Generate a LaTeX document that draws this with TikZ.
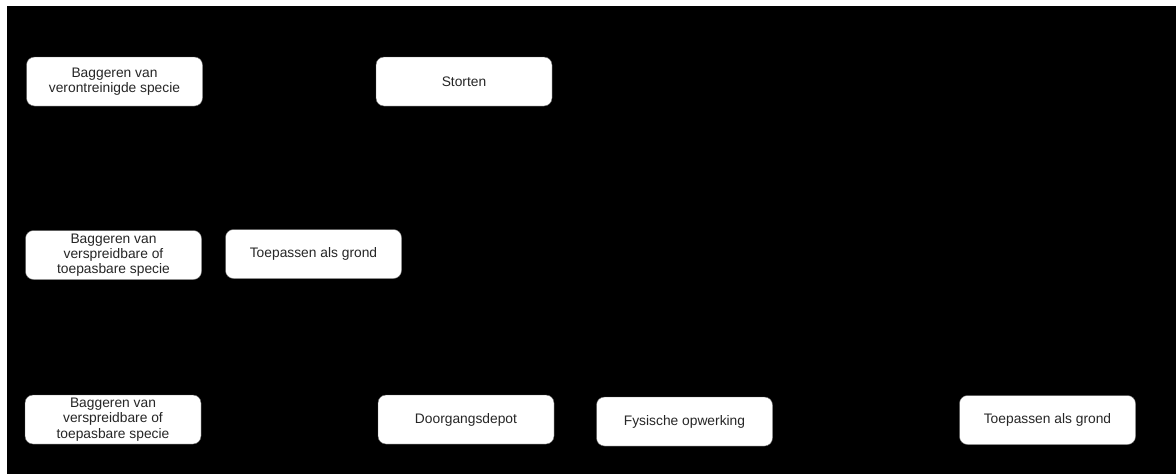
\documentclass[tikz,border=0pt]{standalone}
\usepackage{fontspec}
\setmainfont{Liberation Sans}
\begin{document}
\begin{tikzpicture}[x=1pt,y=-1pt,
  stepbox/.style={draw=black!60, line width=0.4pt, fill=white, rounded corners=8pt,
    minimum width=176pt, minimum height=49pt, inner sep=0pt, align=center,
    font=\fontsize{13.8}{15.2}\selectfont, text=black!85}]
  % page and dark panel
  \fill[white] (0,0) rectangle (1176,474);
  \fill[black] (7,6) rectangle (1176,474);
  \useasboundingbox (0,0) rectangle (1176,474);
  % top row
  \node[stepbox] (bagA) at (114.5,81.5) {Baggeren van\\verontreinigde specie};
  \node[stepbox] (stort) at (464,81.5) {Storten};
  % middle row
  \node[stepbox] (bagB) at (113.5,255) {Baggeren van\\verspreidbare of\\toepasbare specie};
  \node[stepbox] (toepA) at (313.5,254) {Toepassen als grond};
  % bottom row
  \node[stepbox] (bagC) at (113,419.5) {Baggeren van\\verspreidbare of\\toepasbare specie};
  \node[stepbox] (depot) at (466,419.5) {Doorgangsdepot};
  \node[stepbox] (fys) at (684.5,421.5) {Fysische opwerking};
  \node[stepbox] (toepB) at (1047.5,420) {Toepassen als grond};
\end{tikzpicture}
\end{document}
